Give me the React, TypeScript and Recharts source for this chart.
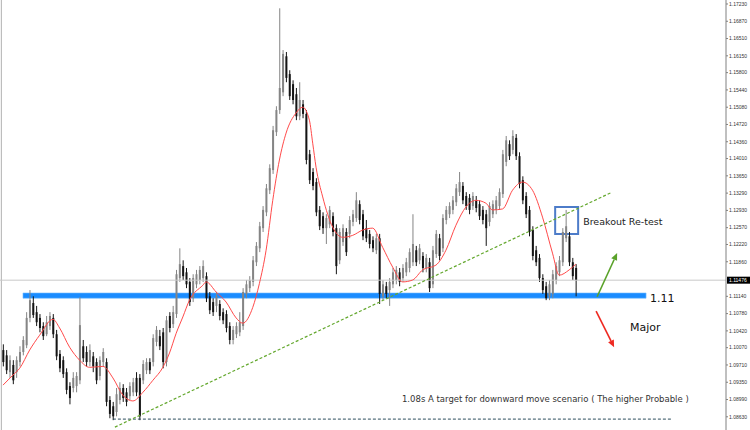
import React from 'react';
import {
  Bar,
  ComposedChart,
  Line,
  ReferenceArea,
  ReferenceDot,
  ReferenceLine,
  XAxis,
  YAxis,
} from 'recharts';

// daily candles (oldest first)
const opens = [
  1.1002, 1.0991, 1.0956, 1.0971, 1.0956, 1.0977, 1.0998, 1.1012, 1.1069, 1.1100,
  1.1081, 1.1069, 1.1052, 1.1035, 1.1052, 1.1069, 1.1035, 1.0994, 1.0981, 1.0956,
  1.0927, 1.0923, 1.0927, 1.0939, 1.1010, 1.0998, 1.0977, 1.0989, 1.0977, 1.0948,
  1.0977, 1.0977, 1.0898, 1.0885, 1.0873, 1.0898, 1.0923, 1.0914, 1.0906, 1.0914,
  1.0944, 1.0944, 1.0939, 1.0960, 1.0977, 1.0977, 1.1019, 1.1031, 1.1039, 1.0977,
  1.1073, 1.1056, 1.1077, 1.1152, 1.1177, 1.1164, 1.1144, 1.1110, 1.1139, 1.1148,
  1.1152, 1.1156, 1.1114, 1.1102, 1.1094, 1.1098, 1.1081, 1.1077, 1.1052, 1.1023,
  1.1035, 1.1039, 1.1052, 1.1119, 1.1131, 1.1144, 1.1185, 1.1214, 1.1256, 1.1289,
  1.1335, 1.1377, 1.1456, 1.1502, 1.1539, 1.1614, 1.1577, 1.1556, 1.1535, 1.1489,
  1.1514, 1.1494, 1.1410, 1.1373, 1.1352, 1.1294, 1.1281, 1.1256, 1.1264, 1.1281,
  1.1256, 1.1189, 1.1227, 1.1248, 1.1244, 1.1269, 1.1277, 1.1306, 1.1285, 1.1256,
  1.1244, 1.1231, 1.1210, 1.1235, 1.1114, 1.1135, 1.1127, 1.1139, 1.1148, 1.1164,
  1.1152, 1.1164, 1.1173, 1.1185, 1.1210, 1.1189, 1.1198, 1.1173, 1.1185, 1.1139,
  1.1202, 1.1235, 1.1214, 1.1273, 1.1285, 1.1294, 1.1310, 1.1331, 1.1344, 1.1323,
  1.1319, 1.1302, 1.1314, 1.1306, 1.1294, 1.1285, 1.1269, 1.1285, 1.1294, 1.1302,
  1.1327, 1.1394, 1.1431, 1.1419, 1.1444, 1.1406, 1.1356, 1.1323, 1.1294, 1.1252,
  1.1210, 1.1194, 1.1152, 1.1135, 1.1114, 1.1119, 1.1148, 1.1164, 1.1185, 1.1235,
  1.1239, 1.1185, 1.1173,
];
const highs = [
  1.1014, 1.1002, 1.0991, 1.0981, 1.0989, 1.1010, 1.1031, 1.1081, 1.1127, 1.1114,
  1.1094, 1.1077, 1.1060, 1.1073, 1.1081, 1.1077, 1.1044, 1.1002, 1.0989, 1.0964,
  1.0935, 1.0956, 1.0956, 1.1112, 1.1023, 1.1010, 1.1014, 1.0998, 1.0985, 1.0989,
  1.1006, 1.0985, 1.0906, 1.0894, 1.0923, 1.0935, 1.0931, 1.0923, 1.0935, 1.0944,
  1.0956, 1.0952, 1.0981, 1.0985, 1.0985, 1.1035, 1.1052, 1.1044, 1.1048, 1.1073,
  1.1081, 1.1094, 1.1169, 1.1214, 1.1189, 1.1173, 1.1152, 1.1160, 1.1169, 1.1177,
  1.1189, 1.1164, 1.1123, 1.1110, 1.1123, 1.1106, 1.1089, 1.1085, 1.1060, 1.1052,
  1.1060, 1.1081, 1.1131, 1.1148, 1.1156, 1.1198, 1.1227, 1.1269, 1.1302, 1.1348,
  1.1389, 1.1469, 1.1510, 1.1714, 1.1627, 1.1623, 1.1585, 1.1564, 1.1548, 1.1560,
  1.1523, 1.1502, 1.1419, 1.1381, 1.1360, 1.1302, 1.1289, 1.1285, 1.1302, 1.1289,
  1.1264, 1.1256, 1.1264, 1.1256, 1.1281, 1.1294, 1.1331, 1.1314, 1.1294, 1.1273,
  1.1252, 1.1239, 1.1244, 1.1244, 1.1148, 1.1144, 1.1152, 1.1173, 1.1177, 1.1173,
  1.1181, 1.1194, 1.1214, 1.1285, 1.1219, 1.1223, 1.1206, 1.1202, 1.1194, 1.1219,
  1.1252, 1.1244, 1.1285, 1.1302, 1.1310, 1.1323, 1.1348, 1.1373, 1.1352, 1.1331,
  1.1327, 1.1331, 1.1323, 1.1314, 1.1302, 1.1294, 1.1310, 1.1314, 1.1323, 1.1339,
  1.1419, 1.1448, 1.1439, 1.1460, 1.1452, 1.1414, 1.1364, 1.1331, 1.1302, 1.1260,
  1.1219, 1.1202, 1.1160, 1.1144, 1.1148, 1.1169, 1.1185, 1.1198, 1.1256, 1.1294,
  1.1248, 1.1194, 1.1181,
];
const lows = [
  1.0968, 1.0952, 1.0944, 1.0931, 1.0944, 1.0968, 1.0991, 1.1006, 1.1060, 1.1069,
  1.1052, 1.1039, 1.1023, 1.1031, 1.1044, 1.1027, 1.0981, 1.0956, 1.0944, 1.0910,
  1.0889, 1.0914, 1.0914, 1.0931, 1.0977, 1.0968, 1.0968, 1.0956, 1.0931, 1.0939,
  1.0968, 1.0885, 1.0860, 1.0856, 1.0864, 1.0889, 1.0894, 1.0885, 1.0898, 1.0906,
  1.0906, 1.0856, 1.0931, 1.0952, 1.0952, 1.0968, 1.1010, 1.1002, 1.0964, 1.0968,
  1.1039, 1.1048, 1.1069, 1.1144, 1.1148, 1.1131, 1.1094, 1.1102, 1.1131, 1.1139,
  1.1144, 1.1102, 1.1077, 1.1073, 1.1081, 1.1064, 1.1056, 1.1039, 1.1014, 1.1014,
  1.1027, 1.1031, 1.1044, 1.1110, 1.1123, 1.1135, 1.1177, 1.1206, 1.1248, 1.1281,
  1.1327, 1.1369, 1.1448, 1.1494, 1.1531, 1.1560, 1.1523, 1.1514, 1.1481, 1.1481,
  1.1485, 1.1389, 1.1348, 1.1335, 1.1281, 1.1252, 1.1244, 1.1223, 1.1256, 1.1239,
  1.1160, 1.1181, 1.1219, 1.1198, 1.1235, 1.1260, 1.1269, 1.1264, 1.1231, 1.1227,
  1.1214, 1.1206, 1.1202, 1.1098, 1.1106, 1.1110, 1.1094, 1.1131, 1.1139, 1.1135,
  1.1144, 1.1156, 1.1164, 1.1177, 1.1177, 1.1181, 1.1164, 1.1164, 1.1123, 1.1131,
  1.1194, 1.1189, 1.1206, 1.1264, 1.1277, 1.1285, 1.1302, 1.1323, 1.1306, 1.1294,
  1.1285, 1.1294, 1.1289, 1.1273, 1.1264, 1.1219, 1.1260, 1.1277, 1.1285, 1.1294,
  1.1319, 1.1385, 1.1398, 1.1410, 1.1398, 1.1339, 1.1306, 1.1277, 1.1239, 1.1189,
  1.1177, 1.1144, 1.1119, 1.1106, 1.1106, 1.1110, 1.1139, 1.1156, 1.1177, 1.1227,
  1.1177, 1.1148, 1.1114,
];
const closes = [
  1.0977, 1.0960, 1.0981, 1.0939, 1.0981, 1.0998, 1.1023, 1.1069, 1.1106, 1.1075,
  1.1060, 1.1048, 1.1031, 1.1060, 1.1073, 1.1035, 1.0989, 1.0964, 1.0952, 1.0919,
  1.0902, 1.0944, 1.0948, 1.1054, 1.0985, 1.0977, 1.1002, 1.0968, 1.0939, 1.0981,
  1.0998, 1.0894, 1.0869, 1.0864, 1.0910, 1.0923, 1.0902, 1.0894, 1.0927, 1.0935,
  1.0914, 1.0864, 1.0973, 1.0977, 1.0960, 1.1027, 1.1044, 1.1010, 1.0977, 1.1064,
  1.1048, 1.1081, 1.1160, 1.1181, 1.1156, 1.1139, 1.1102, 1.1152, 1.1160, 1.1169,
  1.1177, 1.1110, 1.1085, 1.1081, 1.1114, 1.1073, 1.1064, 1.1048, 1.1023, 1.1044,
  1.1052, 1.1060, 1.1123, 1.1139, 1.1148, 1.1189, 1.1219, 1.1260, 1.1294, 1.1339,
  1.1381, 1.1460, 1.1502, 1.1548, 1.1619, 1.1569, 1.1531, 1.1523, 1.1489, 1.1523,
  1.1494, 1.1398, 1.1356, 1.1344, 1.1289, 1.1260, 1.1256, 1.1277, 1.1294, 1.1248,
  1.1177, 1.1248, 1.1256, 1.1206, 1.1273, 1.1285, 1.1314, 1.1273, 1.1239, 1.1235,
  1.1223, 1.1214, 1.1235, 1.1119, 1.1139, 1.1119, 1.1144, 1.1164, 1.1169, 1.1144,
  1.1173, 1.1185, 1.1206, 1.1223, 1.1185, 1.1214, 1.1173, 1.1194, 1.1131, 1.1210,
  1.1244, 1.1198, 1.1277, 1.1294, 1.1302, 1.1314, 1.1339, 1.1352, 1.1314, 1.1302,
  1.1294, 1.1323, 1.1298, 1.1281, 1.1273, 1.1256, 1.1302, 1.1306, 1.1314, 1.1331,
  1.1410, 1.1439, 1.1406, 1.1448, 1.1406, 1.1348, 1.1314, 1.1285, 1.1248, 1.1198,
  1.1185, 1.1152, 1.1127, 1.1110, 1.1139, 1.1160, 1.1177, 1.1189, 1.1248, 1.1260,
  1.1185, 1.1156, 1.1148,
];

// red moving average, read at a subset of candles
const maAt = [
  0, 3, 5, 8, 11, 15, 17, 20, 23, 26, 30, 33, 36, 39, 42, 45, 48, 50, 52, 54,
  56, 60, 61, 64, 67, 70, 72, 75, 77, 79, 81, 83, 85, 88, 90, 92, 93, 94, 96, 99,
  102, 105, 108, 111, 114, 117, 120, 123, 126, 130, 133, 136, 139, 142, 145, 147, 150, 153, 156, 159,
  162, 165, 167, 170, 172,
];
const maVal = [
  1.0929, 1.0950, 1.0964, 1.1002, 1.1033, 1.1066, 1.1048, 1.1008, 1.0981, 1.0966,
  1.0968, 1.0944, 1.0908, 1.0896, 1.0914, 1.0939, 1.0966, 1.0996, 1.1037, 1.1071,
  1.1106, 1.1137, 1.1144, 1.1123, 1.1102, 1.1069, 1.1058, 1.1091, 1.1141, 1.1210,
  1.1314, 1.1398, 1.1454, 1.1496, 1.1508, 1.1481, 1.1433, 1.1383, 1.1321, 1.1258,
  1.1237, 1.1241, 1.1252, 1.1256, 1.1216, 1.1175, 1.1144, 1.1148, 1.1169, 1.1179,
  1.1210, 1.1262, 1.1300, 1.1314, 1.1308, 1.1294, 1.1296, 1.1335, 1.1352, 1.1335,
  1.1279, 1.1204, 1.1158, 1.1169, 1.1181,
];

const priceTicks = [
  1.1723, 1.1687, 1.1651, 1.1615, 1.158, 1.1544, 1.1508, 1.1472, 1.1436, 1.1401,
  1.1365, 1.1329, 1.1293, 1.1257, 1.1222, 1.1186, 1.1114, 1.1078, 1.1042, 1.1007,
  1.0971, 1.0935, 1.0899, 1.0863,
];
const lastPrice = 1.11476;

// drawn objects (bar index, price)
const supportZone = { from: 6, to: 193.1, low: 1.111, high: 1.1121 };
const trendLine = [{ x: 33.6, y: 1.08415 }, { x: 182.9, y: 1.1331 }];
const targetLine = { from: 33, to: 200.9, price: 1.08582 };
const retestBox = { x1: 165.8, x2: 172.7, y1: 1.1244, y2: 1.13 };
const upArrow = [{ x: 178.4, y: 1.11131 }, { x: 184.4, y: 1.1204 }];
const downArrow = [{ x: 178.1, y: 1.10833 }, { x: 183.5, y: 1.1008 }];

const X_DOMAIN: [number, number] = [-0.9, 217.1];
const Y_DOMAIN: [number, number] = [1.08355, 1.17313];

const data = opens.map((o, i) => ({
  i,
  o,
  h: highs[i],
  l: lows[i],
  c: closes[i],
  range: [lows[i], highs[i]],
  ma: undefined as number | undefined,
}));
maAt.forEach((k, j) => {
  data[k].ma = maVal[j];
});

const Candle = (props: any) => {
  const { x, y, width, height, payload } = props;
  if (x == null || y == null) return null;
  const top = Math.min(y, y + height);
  const hgt = Math.abs(height);
  const span = payload.h - payload.l || 1e-9;
  const yOf = (p: number) => top + ((payload.h - p) / span) * hgt;
  const up = payload.c >= payload.o;
  const color = up ? '#858585' : '#141414';
  const bTop = yOf(Math.max(payload.o, payload.c));
  const bBot = yOf(Math.min(payload.o, payload.c));
  const cx = x + width / 2;
  return (
    <g>
      <line x1={cx} x2={cx} y1={top} y2={top + hgt} stroke={color} strokeWidth={1} />
      <rect x={x} y={bTop} width={width} height={Math.max(1, bBot - bTop)} fill={color} />
    </g>
  );
};

const Arrow = (props: any) => {
  const { x1, y1, x2, y2, stroke } = props;
  if (x1 == null) return null;
  const a = Math.atan2(y2 - y1, x2 - x1);
  const L = 7;
  const W = 3.2;
  const bx = x2 - L * Math.cos(a);
  const by = y2 - L * Math.sin(a);
  const px = -Math.sin(a) * W;
  const py = Math.cos(a) * W;
  return (
    <g>
      <line x1={x1} y1={y1} x2={bx} y2={by} stroke={stroke} strokeWidth={1.6} />
      <polygon points={`${x2},${y2} ${bx + px},${by + py} ${bx - px},${by - py}`} fill={stroke} />
    </g>
  );
};

const Note = ({ viewBox, text, size, color = '#222' }: any) => {
  if (!viewBox) return null;
  const cx = viewBox.x + (viewBox.width || 0) / 2;
  const cy = viewBox.y + (viewBox.height || 0) / 2;
  return (
    <text x={cx} y={cy} dy="0.35em" fontSize={size} fontFamily="DejaVu Sans" fill={color}>
      {text}
    </text>
  );
};

const PriceTag = ({ viewBox }: any) => {
  if (!viewBox) return null;
  const x = viewBox.x + viewBox.width + 1;
  const y = viewBox.y;
  return (
    <g>
      <rect x={x} y={y - 3.5} width={23} height={7} fill="#000" />
      <text x={x + 2} y={y} dy="0.35em" fontSize={5} fontFamily="Liberation Sans" fill="#fff">
        {lastPrice.toFixed(5)}
      </text>
    </g>
  );
};

export default function App() {
  return (
    <div style={{ position: 'absolute', left: 0, top: 0, width: 750, height: 430, background: '#fff' }}>
      <ComposedChart width={750} height={430} data={data} margin={{ top: 0, right: 0, bottom: 0, left: 0 }}>
        <XAxis dataKey="i" type="number" domain={X_DOMAIN} allowDataOverflow hide />
        <YAxis
          orientation="right"
          type="number"
          domain={Y_DOMAIN}
          allowDataOverflow
          ticks={priceTicks}
          interval={0}
          width={24}
          tickSize={2}
          tickMargin={1}
          tickFormatter={(v: number) => v.toFixed(5)}
          tick={{ fontSize: 5, fill: '#333', fontFamily: 'Liberation Sans' }}
          stroke="#808080"
        />
        <ReferenceLine x={-0.5} stroke="#b0b0b0" />
        <ReferenceLine y={lastPrice} stroke="#c8c8c8" label={<PriceTag />} />
        <ReferenceLine
          segment={[{ x: targetLine.from, y: targetLine.price }, { x: targetLine.to, y: targetLine.price }]}
          stroke="#2c4c5c"
          strokeDasharray="3 2"
        />
        <Bar dataKey="range" barSize={2} shape={<Candle />} activeBar={false} isAnimationActive={false} />
        <Line
          dataKey="ma"
          type="monotone"
          connectNulls
          dot={false}
          activeDot={false}
          stroke="#ff4a4a"
          strokeWidth={1}
          isAnimationActive={false}
        />
        <ReferenceArea
          x1={supportZone.from}
          x2={supportZone.to}
          y1={supportZone.low}
          y2={supportZone.high}
          fill="#1a8cff"
          fillOpacity={1}
          stroke="#7cc0ff"
          strokeWidth={0.6}
        />
        <ReferenceLine segment={trendLine} stroke="#64a82e" strokeWidth={1.2} strokeDasharray="3 2" />
        <ReferenceArea
          x1={retestBox.x1}
          x2={retestBox.x2}
          y1={retestBox.y1}
          y2={retestBox.y2}
          fill="none"
          fillOpacity={0}
          stroke="#4d7cc9"
          strokeWidth={2}
        />
        <ReferenceLine segment={upArrow} stroke="#5aa22a" shape={<Arrow />} />
        <ReferenceLine segment={downArrow} stroke="#ee2a22" shape={<Arrow />} />
        <ReferenceDot x={174.2} y={1.1269} r={1} fill="none" stroke="none" label={<Note text="Breakout Re-test" size={9.5} />} />
        <ReferenceDot x={194.3} y={1.111} r={1} fill="none" stroke="none" label={<Note text="1.11" size={11} color="#111" />} />
        <ReferenceDot x={188.3} y={1.105} r={1} fill="none" stroke="none" label={<Note text="Major" size={11} color="#111" />} />
        <ReferenceDot
          x={119.8}
          y={1.09}
          r={1}
          fill="none"
          stroke="none"
          label={<Note text="1.08s A target for downward move scenario ( The higher Probable )" size={8.5} color="#333" />}
        />
      </ComposedChart>
    </div>
  );
}
